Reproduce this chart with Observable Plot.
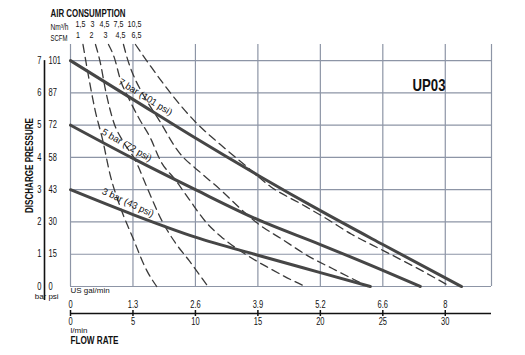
<!DOCTYPE html>
<html><head><meta charset="utf-8">
<script src="https://cdn.jsdelivr.net/npm/d3@7"></script>
<script src="https://cdn.jsdelivr.net/npm/@observablehq/plot@0.6"></script>
<style>body{margin:0;background:#fff} svg{display:block}</style>
</head><body><div id="chart"></div>
<script>
// ---- data ----
const lpmTicks = [0, 5, 10, 15, 20, 25, 30];
const galLabels = ["0", "1.3", "2.6", "3.9", "5.2", "6.6", "8"];
const barTicks = [0, 1, 2, 3, 4, 5, 6, 7];
const psiLabels = ["0", "15", "30", "43", "58", "72", "87", "101"];
const xMax = 33.7;
const yMax = 7.5;

const pressureNames = ["7 bar (101 psi)", "5 bar (72 psi)", "3 bar (43 psi)"];
const p7Flow = [0, 5, 10, 15, 20, 25, 31.3];
const p7Bar  = [7, 5.8, 4.6, 3.45, 2.35, 1.3, 0];
const p5Flow = [0, 5, 10, 15, 20, 25, 28];
const p5Bar  = [5, 3.97, 3.0, 2.07, 1.3, 0.5, 0];
const p3Flow = [0, 5, 10, 15, 20, 24];
const p3Bar  = [3, 2.23, 1.53, 0.97, 0.43, 0];

const nm3hLabels = ["1,5", "3", "4,5", "7,5", "10,5"];
const scfmLabels = ["1", "2", "3", "4,5", "6,5"];
const a1Flow = [1.0, 1.45, 1.95, 2.6, 3.15, 3.95, 5.0, 6.1, 6.9];
const a1Bar  = [7.5, 6.5, 5.5, 4.5, 3.5, 2.5, 1.5, 0.5, 0];
const a2Flow = [2.0, 2.35, 2.85, 3.45, 4.2, 5.2, 6.2, 7.3, 8.4, 9.5, 11.0];
const a2Bar  = [7.5, 7.0, 6.0, 5.1, 4.5, 3.9, 3.0, 2.05, 1.35, 0.8, 0];
const a3Flow = [3.04, 3.5, 4.0, 4.7, 5.5, 6.4, 7.2, 8.4, 9.5, 10.9, 12.1, 14, 16, 17.7, 18.8];
const a3Bar  = [7.5, 7.1, 6.4, 5.8, 5.2, 4.6, 3.9, 3.3, 2.7, 1.97, 1.53, 1.0, 0.55, 0.2, 0];
const a4Flow = [4.24, 4.6, 5.0, 5.8, 7.1, 8.6, 10.5, 12, 13.5, 15, 17, 19, 21, 23.8];
const a4Bar  = [7.5, 7.0, 6.58, 5.96, 5.15, 4.2, 3.5, 3.0, 2.45, 1.95, 1.45, 0.95, 0.55, 0];
const a5Flow = [5.2, 6.5, 8, 10, 12, 14, 16, 18.5, 20.5, 22.5, 25, 27.5, 30.4];
const a5Bar  = [7.5, 6.78, 6.0, 5.1, 4.4, 3.75, 3.1, 2.55, 2.1, 1.62, 1.12, 0.62, 0];

// ---- tables built from the arrays ----
const pFlows = [p7Flow, p5Flow, p3Flow], pBars = [p7Bar, p5Bar, p3Bar];
const pressure = pressureNames.flatMap((name, k) => pFlows[k].map((f, i) => ({series: name, flow: f, bar: pBars[k][i]})));
const aFlows = [a1Flow, a2Flow, a3Flow, a4Flow, a5Flow], aBars = [a1Bar, a2Bar, a3Bar, a4Bar, a5Bar];
const air = nm3hLabels.flatMap((name, k) => aFlows[k].map((f, i) => ({series: name, flow: f, bar: aBars[k][i]})));
const airTop = nm3hLabels.map((name, k) => ({nm: name, scfm: scfmLabels[k], flow: aFlows[k][0], bar: aBars[k][0]}));

function interp(xs, ys, x) {
  for (let i = 1; i < xs.length; i++) if (x <= xs[i]) { const t = (x - xs[i-1]) / (xs[i] - xs[i-1]); return ys[i-1] + t * (ys[i] - ys[i-1]); }
  return ys[ys.length - 1];
}
const labelAt = [6.0, 4.5, 4.6];
const labelRot = [32, 30, 25];
const pLabels = pressureNames.map((name, k) => ({text: name, flow: labelAt[k], bar: interp(pFlows[k], pBars[k], labelAt[k]), rot: labelRot[k]}));

// label nudges (screen px) for the air-consumption header rows
const nmDx = [-2.5, -3, -4, -5, -1];
const scfmDx = [-5, -4, -3, -3, 1];

const grid = "#8d95a6";
const ink = "#111";
const sans = "'Liberation Sans', Arial, sans-serif";

const chart = Plot.plot({
  width: 525, height: 355,
  marginLeft: 70, marginRight: 34, marginTop: 44, marginBottom: 69,
  x: {domain: [0, xMax]},
  y: {domain: [0, yMax]},
  style: {fontFamily: sans, background: "white", color: ink, fontSize: "10px"},
  marks: [
    Plot.ruleX([...lpmTicks, xMax], {x: d => d, y1: 0, y2: yMax, stroke: grid, strokeWidth: 1.2}),
    Plot.ruleY(barTicks, {y: d => d, x1: 0, x2: xMax, stroke: grid, strokeWidth: 1.2}),
    Plot.line(air, {x: "flow", y: "bar", z: "series", stroke: "#3a3a3a", strokeWidth: 1.3, strokeDasharray: "8,5", curve: "monotone-x"}),
    Plot.line(pressure, {x: "flow", y: "bar", z: "series", stroke: "#464646", strokeWidth: 3, curve: "monotone-x"}),
    ...pLabels.map(l => Plot.text([l], {x: "flow", y: "bar", text: "text", rotate: l.rot, dy: -10, fontSize: 9.5, fill: ink})),
    // left axes
    Plot.ruleX([0], {y1: barTicks[barTicks.length - 1], y2: 0, dx: -26, insetBottom: -14, stroke: ink, strokeWidth: 1.6}),
    Plot.axisY(barTicks, {anchor: "left", tickSize: 0, tickPadding: 29, label: null, fontSize: 10}),
    Plot.axisY(barTicks, {anchor: "left", tickSize: 0, tickPadding: 0, dx: -22, textAnchor: "start", label: null, fontSize: 10, tickFormat: d => psiLabels[barTicks.indexOf(d)]}),
    Plot.text(["bar"], {frameAnchor: "bottom-left", textAnchor: "middle", dx: -30, dy: 12, fontSize: 8}),
    Plot.text(["psi"], {frameAnchor: "bottom-left", textAnchor: "middle", dx: -17, dy: 12, fontSize: 8}),
    Plot.text(["DISCHARGE PRESSURE"], {frameAnchor: "left", textAnchor: "middle", dx: -41, rotate: -90, fontWeight: "bold", fontSize: 11.5}),
    // bottom axes
    Plot.ruleY([0], {x1: 0, x2: xMax, dy: 27, stroke: ink, strokeWidth: 1.6}),
    Plot.axisX(lpmTicks, {anchor: "bottom", tickSize: 6, dy: 24, tickFormat: () => "", label: null, stroke: ink, strokeWidth: 1.5}),
    Plot.axisX(lpmTicks, {anchor: "bottom", tickSize: 0, tickPadding: 31, label: null, fontSize: 10}),
    Plot.axisX(lpmTicks, {anchor: "bottom", tickSize: 0, tickPadding: 14, label: null, fontSize: 10, tickFormat: d => galLabels[lpmTicks.indexOf(d)]}),
    Plot.text(["US gal/min"], {frameAnchor: "bottom-left", textAnchor: "start", dy: 6, fontSize: 8}),
    Plot.text(["l/min"], {frameAnchor: "bottom-left", textAnchor: "start", dy: 46, fontSize: 8}),
    Plot.text(["FLOW RATE"], {frameAnchor: "bottom-left", textAnchor: "start", dy: 57, fontSize: 11.5, fontWeight: "bold"}),
    // top
    Plot.text(["AIR CONSUMPTION"], {frameAnchor: "top-left", textAnchor: "start", dx: -20, dy: -36, fontSize: 11.5, fontWeight: "bold"}),
    Plot.text(["Nm³/h"], {frameAnchor: "top-left", textAnchor: "start", dx: -20, dy: -21, fontSize: 8.5}),
    Plot.text(["SCFM"], {frameAnchor: "top-left", textAnchor: "start", dx: -20, dy: -10, fontSize: 8.5}),
    ...airTop.map((a, k) => Plot.text([a], {x: "flow", y: "bar", text: "nm", dx: nmDx[k], dy: -21, fontSize: 9.5})),
    ...airTop.map((a, k) => Plot.text([a], {x: "flow", y: "bar", text: "scfm", dx: scfmDx[k], dy: -10, fontSize: 9.5})),
    Plot.text(["UP03"], {frameAnchor: "top-right", textAnchor: "end", dx: -46, dy: 35, fontSize: 16.5, fontWeight: "bold"})
  ]
});
document.getElementById("chart").appendChild(chart);

// condensed face look (the reference uses a condensed grotesque)
const regular = new Set([...pressureNames, "US gal/min", "l/min", "bar", "psi"]);
const fixedWidth = {"UP03": 33, "AIR CONSUMPTION": 75, "DISCHARGE PRESSURE": 95, "FLOW RATE": 48, "Nm³/h": 18, "SCFM": 17};
d3.select(chart).selectAll("text").each(function() {
  const t = this.textContent;
  if (!t || regular.has(t)) return;
  const w = this.getComputedTextLength();
  if (!(w > 0)) return;
  const target = fixedWidth[t] !== undefined ? fixedWidth[t] : w * 0.75;
  this.setAttribute("textLength", target);
  this.setAttribute("lengthAdjust", "spacingAndGlyphs");
});
</script>
</body></html>
